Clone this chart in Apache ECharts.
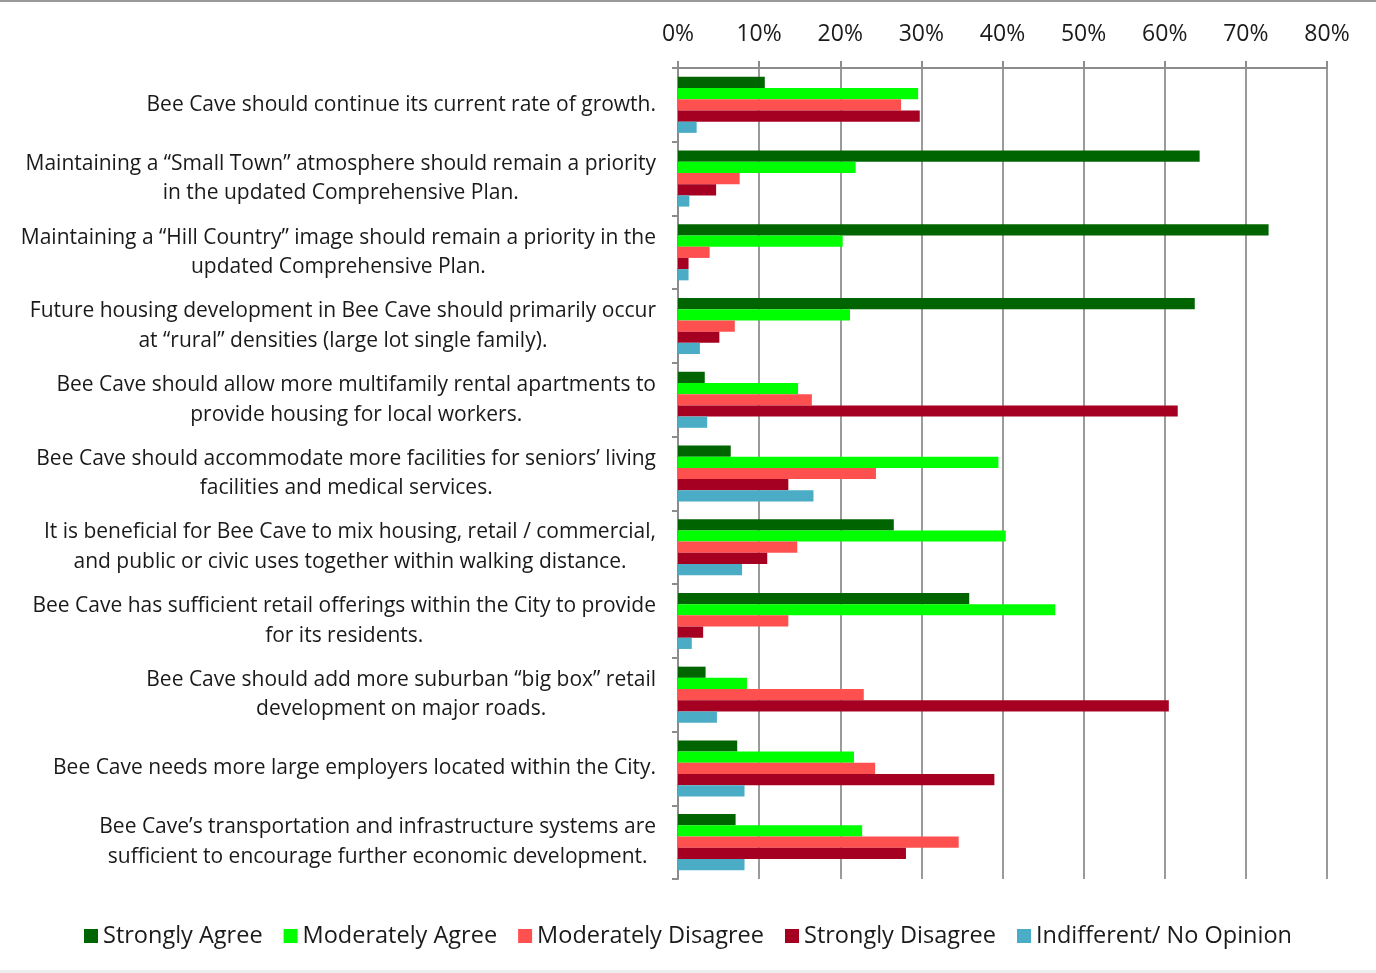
<!DOCTYPE html>
<html>
<head>
<meta charset="utf-8">
<script src="https://cdn.jsdelivr.net/npm/echarts@6/dist/echarts.min.js"></script>
<style>
  html, body { margin: 0; padding: 0; background: #fff; }
  #chart { width: 1376px; height: 973px; box-sizing: border-box; border-top: 2px solid #9a9a9a; border-bottom: 3px solid #ededed; }
</style>
</head>
<body>
<div id="chart"></div>
<script>
const categories = [
  'Bee Cave should continue its current rate of growth.',
  'Maintaining a “Small Town” atmosphere should remain a priority\nin the updated Comprehensive Plan.',
  'Maintaining a “Hill Country” image should remain a priority in the\nupdated Comprehensive Plan.',
  'Future housing development in Bee Cave should primarily occur\nat “rural” densities (large lot single family).',
  'Bee Cave should allow more multifamily rental apartments to\nprovide housing for local workers.',
  'Bee Cave should accommodate more facilities for seniors’ living\nfacilities and medical services.',
  'It is beneficial for Bee Cave to mix housing, retail / commercial,\nand public or civic uses together within walking distance.',
  'Bee Cave has sufficient retail offerings within the City to provide\nfor its residents.',
  'Bee Cave should add more suburban “big box” retail\ndevelopment on major roads.',
  'Bee Cave needs more large employers located within the City.',
  'Bee Cave’s transportation and infrastructure systems are\nsufficient to encourage further economic development.'
];

const seriesNames = ['Strongly Agree', 'Moderately Agree', 'Moderately Disagree', 'Strongly Disagree', 'Indifferent/ No Opinion'];

// values in percent
const stronglyAgree      = [10.7, 64.3, 72.8, 63.7, 3.3, 6.5, 26.6, 35.9, 3.4, 7.3, 7.1];
const moderatelyAgree    = [29.6, 21.9, 20.3, 21.2, 14.8, 39.5, 40.4, 46.5, 8.5, 21.7, 22.7];
const moderatelyDisagree = [27.5, 7.6, 3.9, 7.0, 16.5, 24.4, 14.7, 13.6, 22.9, 24.3, 34.6];
const stronglyDisagree   = [29.8, 4.7, 1.3, 5.1, 61.6, 13.6, 11.0, 3.1, 60.5, 39.0, 28.1];
const indifferent        = [2.3, 1.4, 1.3, 2.7, 3.6, 16.7, 7.9, 1.7, 4.8, 8.2, 8.2];

const colors = ['#006400', '#00ff00', '#ff5050', '#a50021', '#4bacc6'];
const xTicks = [0, 10, 20, 30, 40, 50, 60, 70, 80];

const font = 'Open Sans';
const allValues = [stronglyAgree, moderatelyAgree, moderatelyDisagree, stronglyDisagree, indifferent];

const chart = echarts.init(document.getElementById('chart'));
chart.setOption({
  animation: false,
  color: colors,
  textStyle: { fontFamily: font },
  grid: { left: 678, right: 49, top: 66, bottom: 91, containLabel: false },
  legend: {
    bottom: 17,
    left: 'center',
    itemWidth: 14,
    itemHeight: 14,
    itemGap: 21,
    icon: 'rect',
    textStyle: { fontSize: 23.5, color: '#1a1a1a', fontFamily: font }
  },
  xAxis: {
    type: 'value',
    position: 'top',
    min: xTicks[0],
    max: xTicks[xTicks.length - 1],
    interval: 10,
    axisLine: { show: true, lineStyle: { color: '#8c8c8c', width: 2 } },
    axisTick: { show: true, length: 7, lineStyle: { color: '#8c8c8c', width: 2 } },
    splitLine: { show: true, lineStyle: { color: '#9a9a9a', width: 2 } },
    axisLabel: { formatter: '{value}%', fontSize: 23, color: '#1a1a1a', margin: 22, fontFamily: font }
  },
  yAxis: {
    type: 'category',
    inverse: true,
    data: categories,
    axisLine: { show: true, lineStyle: { color: '#8c8c8c', width: 2 } },
    axisTick: { show: true, length: 6, lineStyle: { color: '#8c8c8c', width: 2 } },
    axisLabel: {
      align: 'right',
      margin: 22,
      // each line centred inside the right-aligned block
      formatter: v => v.split('\n').map(s => '{c|' + s + '}').join('\n'),
      rich: {
        c: { align: 'center', fontSize: 21, lineHeight: 29.5, color: '#1a1a1a', fontFamily: font }
      }
    }
  },
  series: seriesNames.map((name, i) => ({
    name: name,
    type: 'bar',
    data: allValues[i],
    barGap: '0%',
    barCategoryGap: '24%'
  }))
});
</script>
</body>
</html>
